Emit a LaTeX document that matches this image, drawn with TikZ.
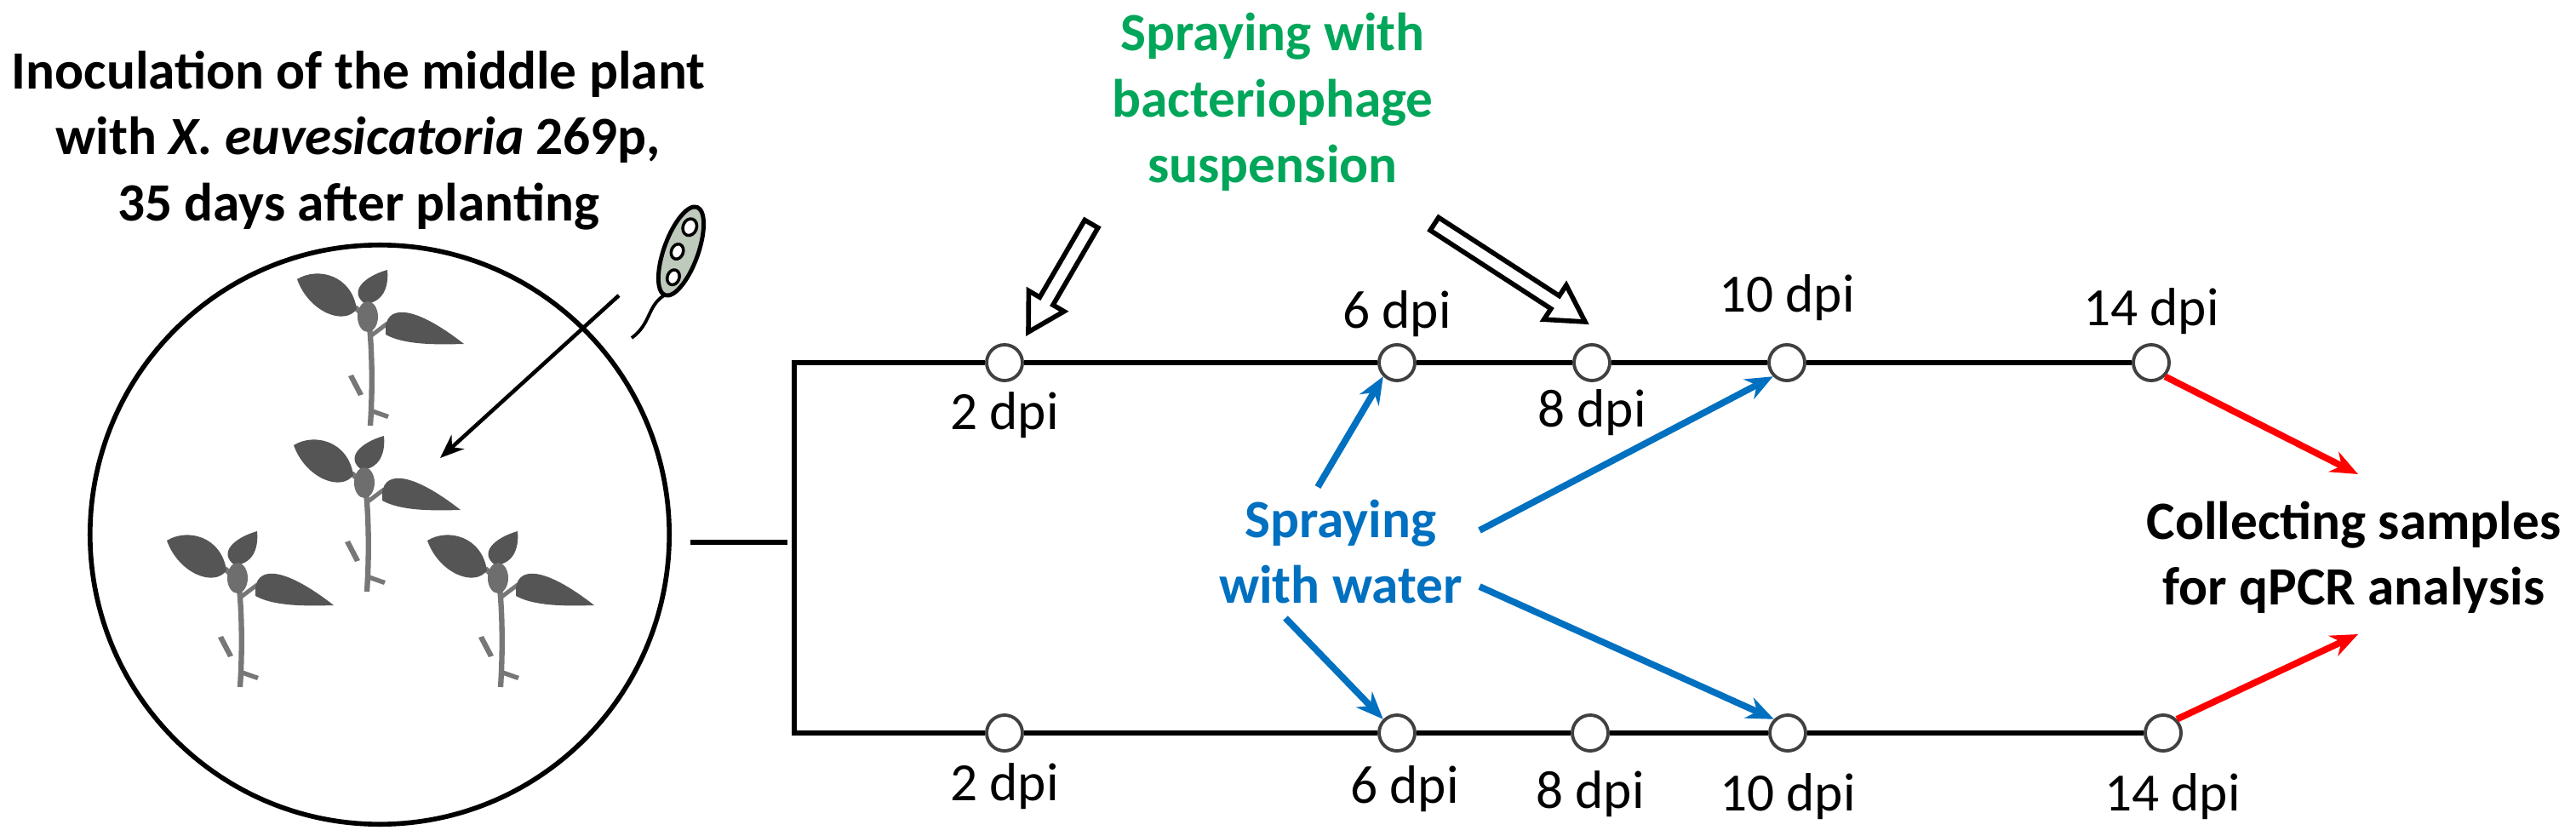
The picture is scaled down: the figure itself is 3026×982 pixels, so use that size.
\documentclass[tikz,border=0pt]{standalone}
\usepackage{fontspec}
\setmainfont{Carlito}
\usetikzlibrary{arrows.meta,calc}
\definecolor{sgreen}{RGB}{0,166,90}
\definecolor{sblue}{RGB}{0,112,192}
\definecolor{sred}{RGB}{255,0,0}
\definecolor{leaf}{RGB}{85,85,85}
\definecolor{bact}{RGB}{190,202,188}
\newcommand\hollowarrow[2]{%
  \coordinate (hb) at ($(#2)!0.42cm!(#1)$);
  \draw[line width=1.6pt, fill=white, line join=miter]
    ($(#1)!0.09cm!90:(#2)$) -- ($(hb)!0.09cm!-90:(#1)$) -- ($(hb)!0.24cm!-90:(#1)$) -- (#2)
    -- ($(hb)!0.24cm!90:(#1)$) -- ($(hb)!0.09cm!90:(#1)$) -- ($(#1)!0.09cm!-90:(#2)$) -- cycle;}
\tikzset{
  px/.style={x=0.01cm,y=-0.01cm},
  lbl/.style={font=\fontsize{18}{22}\selectfont\bfseries, align=center, inner sep=0},
  dpi/.style={font=\fontsize{18}{20}\selectfont, inner sep=0},
  tp/.style={circle, draw=black!75, line width=1.1pt, fill=white, minimum size=0.42cm, inner sep=0},
  tline/.style={line width=1.8pt},
  barrow/.style={sblue, line width=2.2pt, -{Stealth[length=0.32cm,width=0.26cm]}},
  rarrow/.style={sred, line width=2.2pt, -{Stealth[length=0.32cm,width=0.26cm]}},
  pics/plant/.style={code={
    \draw[leaf!80, line width=1.8pt] (0,125) .. controls (3,80) and (2,30) .. (-2,0) -- (-18,-14);
    \draw[leaf!80, line width=1.4pt] (0,20) -- (20,5);
    \fill[leaf!80] (-20,65) -- (-8,88) -- (-14,90) -- (-26,67) -- cycle;
    \fill[leaf!80] (2,105) -- (22,112) -- (20,117) -- (0,110) -- cycle;
    \fill[leaf] (-16,-12) .. controls (-30,8) and (-72,-8) .. (-86,-47) .. controls (-62,-62) and (-22,-52) .. cycle;
    \fill[leaf] (-6,-18) .. controls (-26,-32) and (-8,-50) .. (20,-58) .. controls (22,-36) and (14,-20) .. cycle;
    \fill[leaf] (18,8) .. controls (22,-18) and (55,-14) .. (110,29) .. controls (75,30) and (40,30) .. (18,18) -- cycle;
    \fill[leaf!85] (-3,-3) ellipse [x radius=12, y radius=18];
  }}
}
\begin{document}
\begin{tikzpicture}[px]
\useasboundingbox (0,0) rectangle (3026,982);
% circle with plants
\node[circle, draw, line width=1.6pt, minimum size=6.8cm, inner sep=0] (pot) at (446,628) {};
\pic at (435,375) {plant};
\pic at (431,570) {plant};
\pic at (282,682) {plant};
\pic at (588,682) {plant};
% bacterium
\begin{scope}[shift={(800,295)}, rotate=70]
  \draw[fill=bact, line width=1.4pt] (0,0) ellipse [x radius=55, y radius=20];
  \draw[fill=white, line width=1pt] (-32,2) ellipse [x radius=9, y radius=7];
  \draw[fill=white, line width=1pt] (-2,-4) ellipse [x radius=9, y radius=7];
  \draw[fill=white, line width=1pt] (30,0) ellipse [x radius=10, y radius=8];
\end{scope}
\coordinate (btail) at (742,397);
\draw[line width=1.1pt] (780,347) .. controls (760,360) and (765,380) .. (btail);
\coordinate (bs) at (727,347);
\coordinate (be) at (517,538);
\draw[line width=1.3pt, -{Stealth[length=0.28cm,width=0.22cm]}] (bs) -- (be);
% texts
\node[lbl] (inoc) at (421,165) {Inoculation of the middle plant\\with \textit{X. euvesicatoria} 269p,\\35 days after planting};
\node[lbl, text=sgreen] (phage) at (1495,120) {Spraying with\\bacteriophage\\suspension};
\node[lbl, text=sblue] (water) at (1575,648) {Spraying\\with water};
\node[lbl] (coll) at (2765,655) {Collecting samples\\for qPCR analysis};
% timelines
\coordinate (c1) at (811,637);
\coordinate (tl) at (933,426);
\coordinate (bl) at (933,861);
\draw[tline] (c1) -- (925,637);
\node[tp] (t2) at (1180,426) {};
\node[tp] (t6) at (1641,426) {};
\node[tp] (t8) at (1870,426) {};
\node[tp] (t10) at (2099,426) {};
\node[tp] (t14) at (2527,426) {};
\node[tp] (b2) at (1180,861) {};
\node[tp] (b6) at (1641,861) {};
\node[tp] (b8) at (1868,861) {};
\node[tp] (b10) at (2100,861) {};
\node[tp] (b14) at (2541,861) {};
\draw[tline, line join=miter] (t2.west) -- (tl) -- (bl) -- (b2.west);
\draw[tline] (t2) -- (t6) -- (t8) -- (t10) -- (t14);
\draw[tline] (b2) -- (b6) -- (b8) -- (b10) -- (b14);
% dpi labels
\node[dpi] at (1180,488) {2 dpi};
\node[dpi] at (1641,369) {6 dpi};
\node[dpi] at (1870,485) {8 dpi};
\node[dpi] at (2099,350) {10 dpi};
\node[dpi] at (2527,366) {14 dpi};
\node[dpi] at (1180,924) {2 dpi};
\node[dpi] at (1650,927) {6 dpi};
\node[dpi] at (1868,933) {8 dpi};
\node[dpi] at (2100,936) {10 dpi};
\node[dpi] at (2552,936) {14 dpi};
% hollow arrows
\coordinate (h1s) at (1282,263);
\coordinate (h1e) at (1208,390);
\coordinate (h2s) at (1685,263);
\coordinate (h2e) at (1862,378);
\hollowarrow{h1s}{h1e}
\hollowarrow{h2s}{h2e}
% blue arrows
\coordinate (w1) at (1548,572);
\coordinate (w2) at (1738,623);
\coordinate (w3) at (1738,689);
\coordinate (w4) at (1510,726);
\draw[barrow] (w1) -- (t6.south west);
\draw[barrow] (w2) -- (t10.south west);
\draw[barrow] (w3) -- (b10.north west);
\draw[barrow] (w4) -- (b6.north west);
% red arrows
\draw[rarrow] (t14.south east) -- (2770,557);
\draw[rarrow] (b14.north east) -- (2770,745);
\end{tikzpicture}
\end{document}
